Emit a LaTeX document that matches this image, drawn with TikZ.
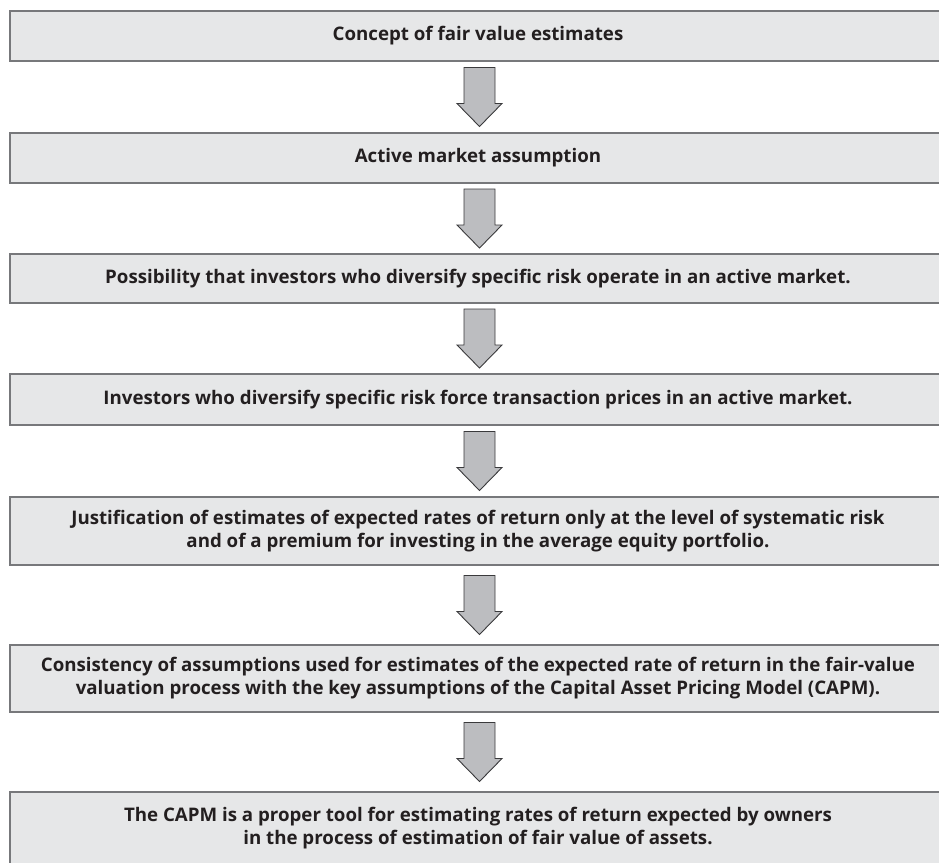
\documentclass[tikz,border=0pt]{standalone}
\usepackage{fontspec}
\setmainfont{Open Sans}
\usetikzlibrary{calc}
\definecolor{boxfill}{HTML}{E6E7E8}
\definecolor{boxline}{HTML}{77787B}
\definecolor{arrfill}{HTML}{BCBDC0}
\definecolor{arrline}{HTML}{3A3A3C}
\definecolor{txt}{HTML}{231F20}
\tikzset{
  stagebox/.style={rectangle, draw=boxline, fill=boxfill, line width=1.4pt,
    minimum width=936pt, inner sep=0pt, align=center, text=txt,
    font=\fontsize{18.7}{23}\selectfont\bfseries},
  downarrow/.pic={\draw[fill=arrfill, draw=arrline, line width=0.9pt, line join=miter]
    (-15.5,29.5) -- (15.5,29.5) -- (15.5,-6.5) -- (22.5,-6.5) -- (0,-29.5)
    -- (-22.5,-6.5) -- (-15.5,-6.5) -- cycle;}
}
\begin{document}
\begin{tikzpicture}[x=1pt,y=1pt]
\useasboundingbox (0,0) rectangle (939,-862);
\clip (0,0) rectangle (939,-862);
\node[stagebox, minimum height=50pt] (b1) at (478,-36) {Concept of fair value estimates};
\node[stagebox, minimum height=50pt] (b2) at (478,-158) {Active market assumption};
\node[stagebox, minimum height=49pt] (b3) at (478,-278.5) {Possibility that investors who diversify specific risk operate in an active market.};
\node[stagebox, minimum height=51pt] (b4) at (478,-399.5) {Investors who diversify specific risk force transaction prices in an active market.};
\node[stagebox, minimum height=68pt] (b5) at (478,-531) {Justification of estimates of expected rates of return only at the level of systematic risk\\and of a premium for investing in the average equity portfolio.};
\node[stagebox, minimum height=67pt] (b6) at (478,-678.5) {Consistency of assumptions used for estimates of the expected rate of return in the fair-value\\valuation process with the key assumptions of the Capital Asset Pricing Model (CAPM).};
\node[stagebox, minimum height=72pt] (b7) at (478,-828) {The CAPM is a proper tool for estimating rates of return expected by owners\\in the process of estimation of fair value of assets.};
\foreach \a/\b in {b1/b2,b2/b3,b3/b4,b4/b5,b5/b6,b6/b7}{
  \coordinate (m-\a) at ($(\a.south)!0.5!(\b.north)+(1.5,0)$);
  \pic at (m-\a) {downarrow};
}
\end{tikzpicture}
\end{document}
